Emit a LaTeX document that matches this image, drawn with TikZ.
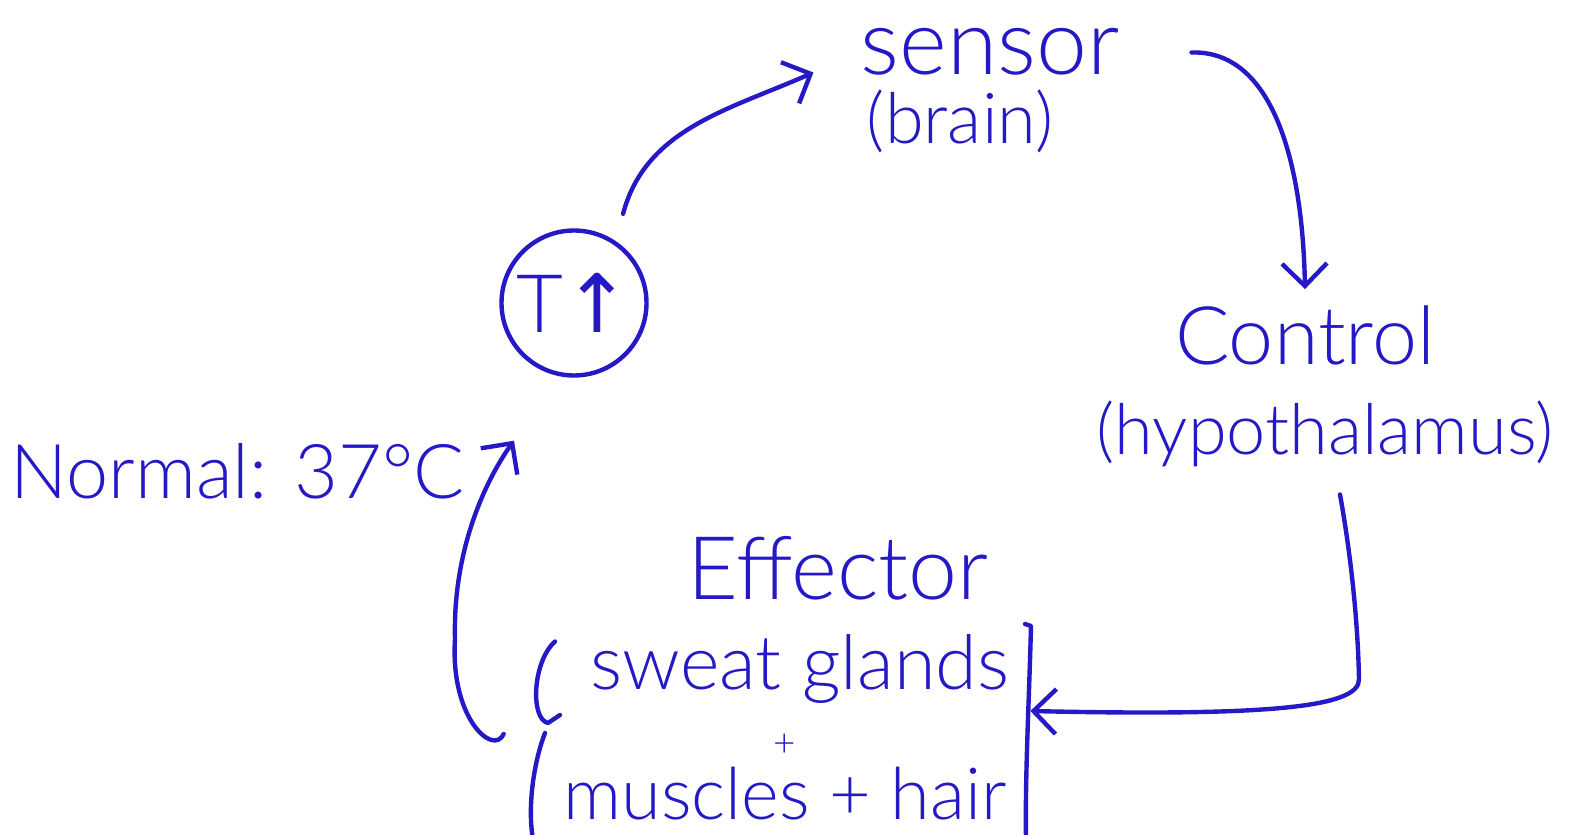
\documentclass[tikz,border=0pt]{standalone}
\usepackage{fontspec}
\setmainfont{Lato Light}
\newfontfamily\hwSymbols{DejaVu Sans}
\usetikzlibrary{arrows.meta,positioning}
\definecolor{HWBlue}{HTML}{2419C4}
\tikzset{
  hwText/.style={
    text=HWBlue, inner sep=1pt, anchor=base,
    font=\fontsize{#1}{#1}\selectfont
  },
  hwText/.default=40,
  hwLine/.style={draw=HWBlue, line width=2.5pt, line cap=round, line join=round},
  hwArrow/.style={hwLine, -{Straight Barb[length=4.5mm,width=9mm,line width=2.5pt]}},
  hwCircle/.style={
    circle, draw=HWBlue, line width=2.5pt, text=HWBlue, minimum size=2.9cm,
    inner sep=0pt, font=\fontsize{46}{46}\selectfont
  },
  hwGroup/.style={rectangle, draw=none, inner sep=0pt}
}

\begin{document}
\begin{tikzpicture}
  \useasboundingbox (0,0) rectangle (31.58,16.68);

  \node[hwText=52] (sensor) at (19.8,15.18) {sensor};
  \node[hwText=40] (brain) at (19.2,13.8) {(brain)};
  \node[hwText=46] (control) at (26.1,9.38) {Control};
  \node[hwText=40] (hypo) at (26.5,7.58) {(hypothalamus)};
  \node[hwText=50] (effector) at (16.76,4.68) {Effector};
  \node[hwText=43] (glands) at (16.0,2.9) {sweat glands};
  \node[hwText=22] (plus) at (15.7,1.55) {+};
  \node[hwText=41] (muscles) at (15.7,0.3) {muscles + hair};
  \node[hwText=43] (normal) at (4.75,6.7) {Normal: 37°C};
  \node[hwCircle] (temp) at (11.48,10.62) {T{\hwSymbols ↑}};
  \node[hwGroup, minimum width=9.8cm, minimum height=4.0cm] (effbox) at (15.7,2.02) {};

  % brackets round the effectors
  \draw[hwLine] (11.1,3.85) .. controls (10.65,3.45) and (10.6,2.3) .. (10.96,2.22) -- (11.2,2.38);
  \draw[hwLine] (10.9,2.02) .. controls (10.66,1.4) and (10.55,0.5) .. (10.66,-0.1);
  \draw[hwLine] (20.5,4.2) -- (20.62,4.16) .. controls (20.58,2.6) and (20.5,1.2) .. (20.52,-0.1);

  \draw[hwArrow] ([shift={(0.35,0.43)}]temp.65) .. controls +(0.45,1.7) and +(-1.7,-0.75) .. ([xshift=-0.9cm,yshift=0.05cm]sensor.base west);
  \draw[hwArrow] ([shift={(1.4,0.45)}]sensor.base east) .. controls +(1.6,0.05) and +(-0.05,2.6) .. ([yshift=0.3cm]control.north);
  \draw[hwArrow] ([xshift=0.3cm,yshift=-0.5cm]hypo.south) .. controls +(0.25,-1.4) and +(-0.02,1.0) .. (27.18,3.1)
    .. controls (27.2,2.55) and (25.5,2.35) .. ([yshift=0.44cm]effbox.east);
  \draw[hwArrow] ([shift={(-0.72,-0.02)}]effbox.west) .. controls +(-0.2,-0.45) and +(-0.1,-1.6) .. (9.1,3.9)
    .. controls (9.05,5.8) and (9.8,7.2) .. ([shift={(-1.2,-1.26)}]temp.south);
\end{tikzpicture}
\end{document}
